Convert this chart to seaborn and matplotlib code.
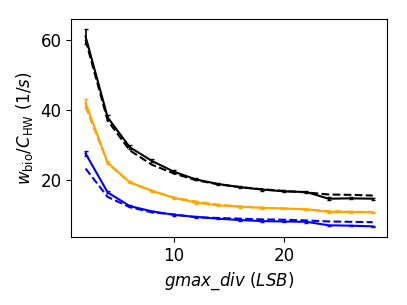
import matplotlib
matplotlib.use('Agg')
import matplotlib.pyplot as plt
import seaborn as sns
import pandas as pd

# gmax_div settings (LSB)
gmax_div = [2, 4, 6, 8, 10, 12, 14, 16, 18, 20, 22, 24, 26, 28]

# measured (solid, with error bars)
black_meas = [61.0, 37.9, 29.4, 25.5, 22.4, 20.2, 18.9, 18.0, 17.3, 16.8, 16.6, 14.7, 14.8, 14.7]
black_err = [2.2, 0.6, 0.5, 0.4, 0.4, 0.3, 0.3, 0.3, 0.3, 0.3, 0.3, 0.4, 0.3, 0.3]
orange_meas = [42.0, 25.0, 19.4, 17.0, 14.9, 13.6, 12.8, 12.4, 12.1, 11.9, 11.7, 10.9, 10.9, 10.8]
orange_err = [1.3, 0.4, 0.3, 0.3, 0.3, 0.3, 0.3, 0.3, 0.2, 0.2, 0.2, 0.2, 0.2, 0.2]
blue_meas = [27.6, 16.5, 12.6, 11.1, 10.1, 9.5, 9.0, 8.6, 8.3, 8.2, 8.1, 7.1, 7.0, 6.8]
blue_err = [0.6, 0.3, 0.3, 0.2, 0.2, 0.2, 0.2, 0.2, 0.2, 0.2, 0.2, 0.2, 0.2, 0.2]

# model (dashed)
black_model = [60.0, 37.0, 28.5, 24.4, 21.9, 20.0, 18.8, 18.0, 17.4, 16.9, 16.5, 15.9, 15.8, 15.6]
orange_model = [41.0, 24.8, 19.3, 16.9, 15.0, 13.9, 13.0, 12.5, 12.1, 11.9, 11.6, 11.2, 11.0, 10.9]
blue_model = [23.3, 15.2, 12.3, 10.8, 10.2, 9.4, 9.2, 9.0, 8.8, 8.7, 8.5, 8.2, 8.1, 8.0]

plt.rcParams['font.size'] = 12

fig, ax = plt.subplots(figsize=(4.07, 3.05), dpi=100)

series = [
    ('black', black_meas, black_err, black_model),
    ('orange', orange_meas, orange_err, orange_model),
    ('blue', blue_meas, blue_err, blue_model),
]
for color, meas, err, model in series:
    df = pd.DataFrame({'x': gmax_div, 'meas': meas, 'model': model})
    sns.lineplot(x='x', y='meas', data=df, color=color, linewidth=1.5, ax=ax)
    ax.errorbar(gmax_div, meas, yerr=err, fmt='none', ecolor=color,
                elinewidth=1.2, capsize=1.5)
    sns.lineplot(x='x', y='model', data=df, color=color, linewidth=1.5,
                 linestyle='--', ax=ax)

ax.set_xlabel(r'$gmax\_div$ ($LSB$)', fontsize=12)
ax.set_ylabel(r'$w_{\rm bio}/C_{\rm HW}$ ($1/s$)', fontsize=12)
ax.set_yticks([20, 40, 60])
ax.set_xticks([10, 20])

fig.subplots_adjust(left=0.175, right=0.951, top=0.938, bottom=0.223)
plt.savefig('out.png', dpi=100)
